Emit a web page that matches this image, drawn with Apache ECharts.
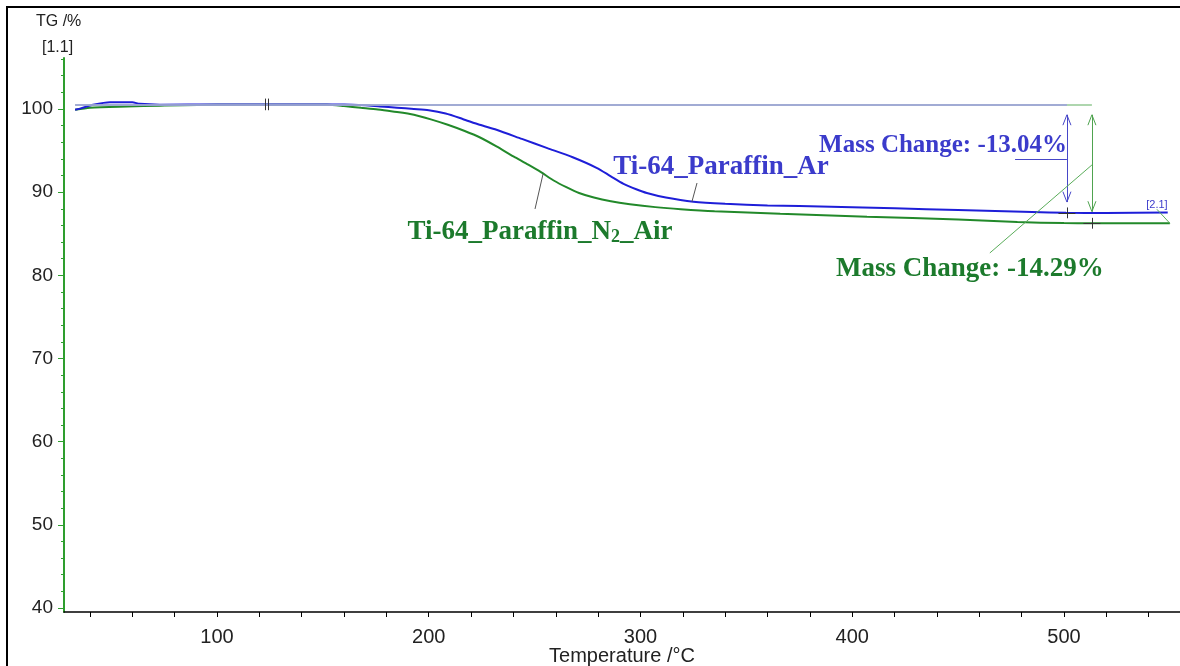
<!DOCTYPE html>
<html>
<head>
<meta charset="utf-8">
<script src="https://cdn.jsdelivr.net/npm/echarts@6/dist/echarts.min.js"></script>
<style>
  html, body { margin: 0; padding: 0; background: #fff; }
  #chart { width: 1180px; height: 666px; }
</style>
</head>
<body>
<div id="chart"></div>
<script>
// TG curves: [temperature °C, mass %]
const arCurve = [
  [33, 99.9], [36, 100.1], [41.5, 100.5], [49.5, 100.8], [60, 100.8], [63.5, 100.62],
  [73, 100.52], [100, 100.55], [125, 100.55], [160, 100.55], [170, 100.45], [177, 100.3],
  [185, 100.15], [193, 100.0], [200, 99.85], [208, 99.45], [216, 98.8], [224, 98.1],
  [232, 97.5], [244, 96.4], [256, 95.3], [268, 94.2], [279.5, 92.9], [286, 91.9],
  [292, 91.0], [298, 90.35], [303, 89.9], [312, 89.35], [325, 88.85], [340, 88.6],
  [360, 88.4], [390, 88.25], [420, 88.05], [450, 87.85], [485, 87.62], [501, 87.52],
  [520, 87.5], [549, 87.55]
];
const n2AirCurve = [
  [33, 99.9], [40, 100.15], [57.5, 100.3], [73, 100.4], [100, 100.5], [152, 100.5],
  [160, 100.35], [168, 100.15], [176, 99.95], [183, 99.7], [193, 99.3], [201, 98.75],
  [209, 98.1], [217, 97.35], [224, 96.6], [232, 95.5], [240, 94.3], [247, 93.3],
  [253, 92.4], [259, 91.4], [265, 90.6], [271, 89.9], [278, 89.35], [286, 88.9],
  [295, 88.55], [307, 88.2], [319, 87.95], [335, 87.7], [366, 87.4], [407, 87.05],
  [450, 86.7], [478, 86.4], [500, 86.28], [513, 86.26], [550, 86.26]
];

// Step evaluation: start level and end points of each mass change
const startLevel = 100.55;
const arStep = { t: 501.4, end: 87.51, change: -13.04 };
const n2Step = { t: 513.2, end: 86.26, change: -14.29 };

// Axis ticks and labels
const xLabelValues = [100, 200, 300, 400, 500];
const xTickValues = [40, 60, 80, 100, 120, 140, 160, 180, 200, 220, 240, 260, 280, 300,
  320, 340, 360, 380, 400, 420, 440, 460, 480, 500, 520, 540];
const yLabelValues = [40, 50, 60, 70, 80, 90, 100];
const yMinorValues = [40, 42, 44, 46, 48, 50, 52, 54, 56, 58, 60, 62, 64, 66, 68, 70, 72,
  74, 76, 78, 80, 82, 84, 86, 88, 90, 92, 94, 96, 98, 100, 102, 104, 106];

const BLUE = '#1e1ed8';
const GREEN = '#22892a';
const BLUE_TEXT = '#3b3bcb';
const GREEN_TEXT = '#1c7a2c';

function seg(a, b, color, width) {
  return [
    { coord: a, lineStyle: { color: color, width: width || 1, type: 'solid' } },
    { coord: b }
  ];
}

// vertical double-headed open arrow between two levels at temperature t
function arrowSegs(t, top, bottom, color) {
  const hw = 1.9, hl = 1.25;
  return [
    seg([t, top], [t, bottom], color),
    seg([t, top], [t - hw, top - hl], color),
    seg([t, top], [t + hw, top - hl], color),
    seg([t, bottom], [t - hw, bottom + hl], color),
    seg([t, bottom], [t + hw, bottom + hl], color)
  ];
}

function crossSegs(t, v, color) {
  return [
    seg([t, v - 0.65], [t, v + 0.65], color),
    seg([t - 4, v], [t + 4, v], color)
  ];
}

const annotationLines = [].concat(
  [seg([33, startLevel], [n2Step.t, startLevel], '#93c993', 1.5)],
  [seg([33, startLevel], [arStep.t, startLevel], '#9c9ce0', 1.5)],
  arrowSegs(arStep.t, startLevel - 1.25, arStep.end + 1.3, '#4646c8'),
  arrowSegs(n2Step.t, startLevel - 1.25, n2Step.end + 1.4, '#4fa34f'),
  crossSegs(arStep.t, arStep.end, '#333'),
  crossSegs(n2Step.t, n2Step.end, '#333'),
  [
    seg([122.6, startLevel - 0.7], [122.6, startLevel + 0.7], '#333'),
    seg([124.0, startLevel - 0.7], [124.0, startLevel + 0.7], '#333'),
    // leader lines from the curve names and step results
    seg([326.7, 91.1], [324.3, 88.85], '#555'),
    seg([254, 92.2], [250.2, 87.98], '#555'),
    seg([476.9, 93.99], [arStep.t, 93.99], '#4646c8'),
    seg([n2Step.t, 93.27], [465, 82.69], '#5aad5a'),
    seg([543.9, 87.94], [550, 86.26], '#5aad5a')
  ]
);

const SERIF = 'Liberation Serif';

const textMarks = [
  { value: [338, 93.0], label: { formatter: 'Ti-64_Paraffin_Ar', color: BLUE_TEXT, fontSize: 27 } },
  {
    value: [252.5, 85.2],
    label: {
      formatter: 'Ti-64_Paraffin_N{sub|2}_Air', color: GREEN_TEXT, fontSize: 27,
      rich: { sub: { fontFamily: SERIF, fontWeight: 'bold', fontSize: 18, color: GREEN_TEXT, padding: [10, 0, 0, 0] } }
    }
  },
  { value: [442.9, 95.55], label: { formatter: 'Mass Change: ' + arStep.change.toFixed(2) + '%', color: BLUE_TEXT, fontSize: 25 } },
  { value: [455.6, 80.75], label: { formatter: 'Mass Change: ' + n2Step.change.toFixed(2) + '%', color: GREEN_TEXT, fontSize: 27 } },
  { value: [543.9, 88.5], label: { formatter: '[2.1]', color: BLUE_TEXT, fontSize: 11, fontFamily: 'Liberation Sans', fontWeight: 'normal' } }
];
textMarks.forEach(function (m) {
  m.label.show = true;
  m.label.position = 'inside';
  m.label.opacity = 1;
  if (!m.label.fontFamily) { m.label.fontFamily = SERIF; m.label.fontWeight = 'bold'; }
});

const chart = echarts.init(document.getElementById('chart'), null, { renderer: 'canvas' });

chart.setOption({
  animation: false,
  backgroundColor: '#fff',
  grid: { left: 64, right: 0, top: 58, bottom: 54, containLabel: false, outerBoundsMode: 'none' },
  graphic: [
    { type: 'rect', shape: { x: 7, y: 7, width: 1300, height: 800 }, style: { fill: 'none', stroke: '#000', lineWidth: 2 }, silent: true },
    { type: 'text', left: 36, top: 14, style: { text: 'TG /%', fontSize: 16, fontFamily: 'Liberation Sans', fill: '#222' } },
    { type: 'text', left: 42, top: 40, style: { text: '[1.1]', fontSize: 16, fontFamily: 'Liberation Sans', fill: '#222' } }
  ],
  xAxis: {
    type: 'value', min: 27.75, max: 554.8,
    name: 'Temperature /°C', nameLocation: 'middle', nameGap: 34, nameMoveOverlap: false,
    nameTextStyle: { fontSize: 20, fontFamily: 'Liberation Sans', color: '#222' },
    axisLine: { show: true, lineStyle: { color: '#000', width: 1.5 } },
    axisTick: { show: true, customValues: xTickValues, length: 5, lineStyle: { color: '#000' } },
    axisLabel: { customValues: xLabelValues, fontSize: 20, fontFamily: 'Liberation Sans', color: '#222', margin: 15 },
    splitLine: { show: false }
  },
  yAxis: [
    {
      type: 'value', min: 39.52, max: 106.13,
      axisLine: { show: true, lineStyle: { color: '#2e9e2e', width: 2 } },
      axisTick: { show: true, customValues: yLabelValues, length: 6, lineStyle: { color: '#2e9e2e' } },
      axisLabel: { customValues: yLabelValues, fontSize: 19, fontFamily: 'Liberation Sans', color: '#222', margin: 11 },
      splitLine: { show: false }
    },
    {
      type: 'value', min: 39.52, max: 106.13, position: 'left',
      axisLine: { show: false },
      axisTick: { show: true, customValues: yMinorValues, length: 3, lineStyle: { color: '#2e9e2e' } },
      axisLabel: { show: false },
      splitLine: { show: false }
    }
  ],
  series: [
    {
      name: 'Ti-64_Paraffin_N2_Air', type: 'line', data: n2AirCurve, showSymbol: false,
      smooth: 0.25, lineStyle: { color: GREEN, width: 2 }, z: 3
    },
    {
      name: 'Ti-64_Paraffin_Ar', type: 'line', data: arCurve, showSymbol: false,
      smooth: 0.25, lineStyle: { color: BLUE, width: 2 }, z: 4
    },
    {
      type: 'line', data: [], silent: true, z: 2,
      markLine: { silent: true, symbol: 'none', animation: false, label: { show: false }, data: annotationLines }
    },
    {
      type: 'scatter', data: textMarks, symbolSize: 0, silent: true, z: 6,
      itemStyle: { opacity: 1 }
    }
  ]
});
</script>
</body>
</html>
